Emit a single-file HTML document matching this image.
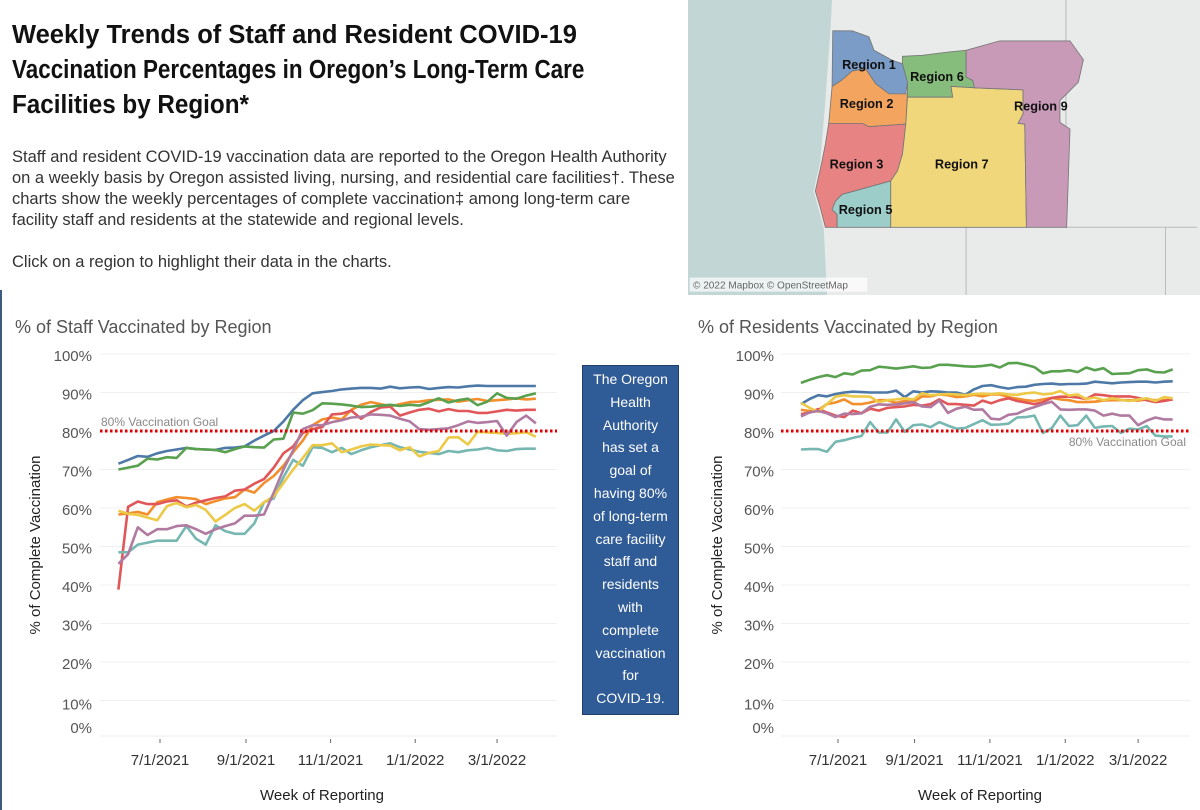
<!DOCTYPE html>
<html><head><meta charset="utf-8"><style>
body{margin:0;width:1200px;height:810px;background:#fff;position:relative;overflow:hidden;font-family:"Liberation Sans",sans-serif;}
.abs{position:absolute;}
h1{position:absolute;left:12px;top:18px;margin:0;font-size:25.5px;line-height:35px;font-weight:bold;color:#111;width:700px;white-space:nowrap;}
h1 span{display:block;transform-origin:0 50%;}
.desc{left:12px;top:147px;font-size:16.5px;line-height:21px;color:#333;white-space:nowrap;}
.ctitle{font-size:18px;color:#555;}
.card{left:582px;top:365px;width:97px;height:350px;background:#2f5b96;border:1px solid #1f3f6e;color:#fff;font-size:14px;line-height:22.8px;text-align:center;box-sizing:border-box;padding-top:2px;}
</style></head><body>
<div class="abs" style="left:0;top:290px;width:2px;height:520px;background:#3d5a80"></div>
<h1><span>Weekly Trends of Staff and Resident COVID-19</span><span style="transform:scaleX(0.88)">Vaccination Percentages in Oregon’s Long-Term Care</span><span style="transform:scaleX(0.95)">Facilities by Region*</span></h1>
<div class="abs desc">Staff and resident COVID-19 vaccination data are reported to the Oregon Health Authority<br>on a weekly basis by Oregon assisted living, nursing, and residential care facilities†. These<br>charts show the weekly percentages of complete vaccination‡ among long-term care<br>facility staff and residents at the statewide and regional levels.<br><br>Click on a region to highlight their data in the charts.</div>

<svg class="abs" style="left:688px;top:0" width="512" height="295" viewBox="0 0 1528 880" preserveAspectRatio="none">
<rect x="0" y="0" width="1528" height="880" fill="#e9eaea"/>
<path d="M0,0 L430,0 L425,90 L410,300 L395,480 L375,570 L405,680 L415,880 L0,880Z" fill="#c3d6d6"/>
<path d="M830,678 L830,880 M1425,678 L1425,880 M1128,0 L1128,678 L1520,678" stroke="#bbb" stroke-width="3" fill="none"/>
<g stroke="#777" stroke-width="2.5">
<polygon fill="#7a9cc6" points="432,92 490,92 540,110 555,150 610,180 640,190 655,245 650,280 600,280 560,250 530,205 490,212 458,240 430,258"/>
<polygon fill="#f3a55f" points="430,258 458,240 490,212 530,205 560,250 600,280 655,280 650,370 540,378 520,368 420,368"/>
<polygon fill="#e88383" points="420,368 520,368 540,378 650,370 640,460 625,510 605,540 460,580 440,600 430,625 445,640 445,678 410,678 395,620 380,570 400,480 410,430"/>
<polygon fill="#9ccdc8" points="460,580 605,540 605,678 445,678 445,640 430,625 440,600"/>
<polygon fill="#86bd7d" points="640,168 700,165 780,155 830,150 830,230 850,240 855,262 785,258 790,290 655,290 655,245 640,190"/>
<polygon fill="#f1d77b" points="655,290 790,290 785,258 855,262 1000,268 1000,340 985,368 1005,370 1010,678 605,678 605,540 625,510 640,460 650,370"/>
<polygon fill="#c99ab8" points="830,150 930,122 1140,122 1180,178 1165,245 1110,300 1110,365 1140,385 1130,678 1010,678 1005,370 985,368 1000,340 1000,268 855,262 850,240 830,230"/>
</g>
<g font-family="Liberation Sans, sans-serif" font-weight="bold" font-size="38" fill="#111" text-anchor="middle">
<text x="540" y="206">Region 1</text><text x="743" y="241">Region 6</text><text x="533" y="322">Region 2</text>
<text x="1053" y="329">Region 9</text><text x="503" y="502">Region 3</text><text x="817" y="502">Region 7</text><text x="530" y="639">Region 5</text>
</g>
<rect x="5" y="828" width="530" height="42" fill="#fff" opacity="0.7"/>
<text x="15" y="860" font-family="Liberation Sans, sans-serif" font-size="30" fill="#666">© 2022 Mapbox © OpenStreetMap</text>
</svg>

<div class="abs ctitle" style="left:15px;top:317px">% of Staff Vaccinated by Region</div>
<div class="abs ctitle" style="left:698px;top:317px">% of Residents Vaccinated by Region</div>
<div class="abs card">The Oregon<br>Health<br>Authority<br>has set a<br>goal of<br>having 80%<br>of long-term<br>care facility<br>staff and<br>residents<br>with<br>complete<br>vaccination<br>for<br>COVID-19.</div>

<svg class="abs" id="charts" style="left:0;top:0" width="1200" height="810"></svg>
<script>
const regions=['Region 1','Region 2','Region 3','Region 5','Region 6','Region 7','Region 9'];
const colors=['#4e79a7','#f28e2b','#e15759','#76b7b2','#59a14f','#edc948','#b07aa1'];
const yTicks=[0,10,20,30,40,50,60,70,80,90,100];
const xTickLabels=['7/1/2021','9/1/2021','11/1/2021','1/1/2022','3/1/2022'];
const xTickDays=[30,92,153,214,273];
const startDate='2021-05-31';
const goalValue=80;
const staffR1=[71.5,72.5,73.5,73.3,74.2,74.8,75.2,75.6,75.3,75.2,75.1,75.6,75.7,76.0,77.5,78.8,80,82.5,85.5,88,89.8,90.1,90.4,90.8,91.0,91.2,91.2,91.0,91.5,91.1,91.3,91.4,90.9,91.2,91.4,91.3,91.6,91.8,91.7,91.7,91.7,91.7,91.7,91.7];
const staffR2=[58.3,58.6,59,58.3,61.5,62.2,62.8,62.6,62.3,61,61.8,62.5,62.8,64.8,64,66.5,68.3,71,74.5,77.5,81.5,83,83.5,83,85.5,86.8,87.5,87,86.4,87,87.5,87.6,88,88.1,88.2,87.6,88,88.3,87.8,88,88.2,88.5,88.2,88.4];
const staffR3=[38.8,60.3,61.7,61,61,61.7,62,60.4,61.4,62,62.6,63,64.5,64.8,66.3,67.5,70.5,74.2,76,79.5,80.5,81,84.3,84.5,85.3,83.2,84.9,86.1,86.3,84,84.8,85.5,85.8,85.1,85.7,85.2,85.2,84.7,84.7,85.1,85.5,85.3,85.5,85.5];
const staffR5=[48.5,48.5,50.5,51,51.5,51.5,51.5,55.3,52,50.5,55.5,54,53.3,53.3,56,61.5,62.5,68,72.5,71,75.8,75.6,74.5,75.6,74,75,75.8,76.3,76.8,75.8,75.2,74.6,74.3,74,74.8,74.5,75,75.2,75.6,75,74.8,75.3,75.4,75.4];
const staffR6=[70,70.5,71,72.8,72.6,73.2,73,75.6,75.3,75.2,75.1,74.5,75.3,76,75.8,75.7,77.8,78,84.8,84.5,85.4,87.2,87.1,86.9,86.6,86.2,86.3,86.6,86.8,86.5,86.8,86.6,87.5,88.5,87.4,88,88.4,86.7,87.6,89.8,88.6,88.4,89.2,89.8];
const staffR7=[59.3,58.5,58.2,57.5,56.8,60.5,61.3,60.2,60.8,59.5,56.5,58.2,60,61,59.3,61.5,63,66.5,70,73,76.3,76.3,76.8,74.5,75.2,76,76.5,76.3,76.2,75,75.8,73.4,74.3,74.8,78.3,78.4,76.5,79.8,79.6,79.5,79.3,79.4,79.7,78.5];
const staffR9=[45.5,48,55,53,54.5,54.5,55.3,55.5,54.5,53.3,54.5,55.3,56,58,58,58.3,64,70,75,80.5,81.5,81.5,82.3,82.8,83.5,83.7,84.3,84.2,84,83.2,82.5,80.5,80.3,80.5,80.7,81.5,82.5,82.1,82.3,82.6,78.8,82.3,84,82];
const resR1=[87,88.3,89.3,89,89.6,90,90.2,90.1,90,90,90,90.5,88.8,90.3,90,90.3,90.2,90,90,89.4,90.8,91.7,91.9,91.4,91,91.4,91.5,92,92.2,92.3,92.1,92.2,92.2,92.3,92.8,92.6,92.4,92.6,92.7,92.8,92.8,92.6,92.8,92.9];
const resR2=[85.5,85.2,85.4,87,87.4,88.2,87,87,87.4,88,88,87.3,87.8,87.5,89,89,89.5,89.3,88.8,89,89.4,89,89.5,89.5,88.8,88.4,88,87.8,88.2,88.6,88.2,88,87.5,87.5,87.6,87.9,88,88,88,87.9,88.2,88,88,88.2];
const resR3=[84.4,84.8,85.7,84.8,84,83.6,85.3,84.6,85.8,85.3,86,86.2,86.4,86.8,86.6,87,88.2,87,87,86.8,86.6,87.9,87.2,88,88.5,87.8,87.4,87,87.5,88.6,88.9,88.9,88.7,88.3,89.5,89.3,89,89,89,88.6,88,87.5,87.8,88.2];
const resR5=[75.2,75.3,75.3,74.6,77.2,77.6,78.2,78.7,82.3,79.6,79.6,83,79.8,81.5,81.7,81,82.3,81.4,80.6,80.8,81.8,82.8,81.6,81.7,81.9,83.5,83.6,84,79.5,80.7,84,81.3,81.5,84,80.8,81.2,81.3,79.5,80.6,80.4,81.3,78.8,78.6,78.6];
const resR6=[92.5,93.3,94,94.5,94,95,94.7,95.7,95.8,96.7,96.5,96.2,96.5,96.8,96.4,96.5,97.2,97.2,97,96.8,96.7,96.9,97.2,96.5,97.6,97.7,97.2,96.6,95,95.5,95.5,95.8,95.3,96.5,95.8,96.3,94.8,94.9,95,95.8,96,95.3,95.2,96];
const resR7=[87.3,86,85,87,88.9,89.3,89,89,88.9,87.5,88,88.2,88.5,88.2,89.8,89.3,89.5,89.6,89.5,89.3,89.6,89.7,89.6,89.8,89.5,89.4,89.8,90,89.5,89.7,90.4,89.2,89.5,88.3,88.7,88,88.5,88.1,87.8,88.2,88.5,87.8,88.8,88.5];
const resR9=[83.8,84.8,85.2,84.6,83.6,84.5,84.4,84.6,86.3,86.9,86.8,86.9,87.2,87.5,86.4,86.2,87.9,84.7,85.8,86.3,85.5,85.6,83.2,83,84.2,84.5,85.5,86.2,87,87.6,85.6,85.5,85.6,85.6,85.3,84,84.5,84,84,81.5,82.7,83.5,83,83];

const NS='http://www.w3.org/2000/svg';
const svg=document.getElementById('charts');
function mk(tag,attrs,parent){const e=document.createElementNS(NS,tag);for(const k in attrs)e.setAttribute(k,attrs[k]);(parent||svg).appendChild(e);return e;}
function drawChart(cfg){
  const g=mk('g',{});
  
  
  const y=v=>cfg.y0-(v/100)*(cfg.y0-cfg.y100);
  const x=d=>cfg.xa+(d-30)*cfg.k;
  yTicks.forEach(t=>{
    if(t>0){const gl=mk('line',{x1:cfg.gx0,x2:cfg.gx1,y1:y(t),y2:y(t),stroke:'#f0f0f0','stroke-width':1},g);
    
    }
    const tx=mk('text',{x:cfg.lx,y:(t===0?y(0)-6:y(t)+(t===10?9:7)),'text-anchor':'end','font-size':15,fill:'#555','font-family':'Liberation Sans, sans-serif'},g);
    tx.textContent=t+'%';
    
    
  });
  mk('line',{x1:cfg.gx0,x2:cfg.gx1,y1:y(0)-3,y2:y(0)-3,stroke:'#eee'},g);
  xTickDays.forEach((d,i)=>{
    mk('line',{x1:x(d),x2:x(d),y1:y(0),y2:y(0)+4,stroke:'#666'},g);
    const tx=mk('text',{x:x(d),y:y(0)+26,'text-anchor':'middle','font-size':15,fill:'#333','font-family':'Liberation Sans, sans-serif'},g);
    tx.textContent=xTickLabels[i];
    
    
  });
  const xt=mk('text',{x:cfg.xtx,y:800,'text-anchor':'middle','font-size':15,fill:'#222','font-family':'Liberation Sans, sans-serif'},g);
  xt.textContent='Week of Reporting';
  
  
  const yt=mk('text',{x:0,y:0,transform:'translate('+cfg.ytx+',545) rotate(-90)','text-anchor':'middle','font-size':15,fill:'#222','font-family':'Liberation Sans, sans-serif'},g);
  yt.textContent='% of Complete Vaccination';
  
  
  cfg.series.forEach((s,si)=>{
    const pts=s.map((v,i)=>x(i*7)+','+y(v).toFixed(1)).join(' ');
    const pl=mk('polyline',{points:pts,fill:'none',stroke:colors[si],'stroke-width':2.6,'stroke-linejoin':'round'},g);
    
    
  });
  const gl=mk('line',{x1:cfg.gx0,x2:cfg.gx1,y1:y(goalValue),y2:y(goalValue),stroke:'#e00000','stroke-width':3,'stroke-dasharray':'2.5 2.5'},g);
  
  
  const gt=mk('text',{x:cfg.gtx,y:y(goalValue)+cfg.gdy,'text-anchor':cfg.ganchor,'font-size':12,fill:'#888','font-family':'Liberation Sans, sans-serif'},g);
  gt.textContent=goalValue+'% Vaccination Goal';
  
  
}
drawChart({name:'staff-chart',y0:739,y100:354,xa:160,k:1.387,gx0:100,gx1:557,lx:92,xtx:322,ytx:40,gtx:101,gdy:-5,ganchor:'start',
  series:[staffR1,staffR2,staffR3,staffR5,staffR6,staffR7,staffR9]});
drawChart({name:'residents-chart',y0:739,y100:354,xa:838,k:1.235,gx0:781,gx1:1190,lx:774,xtx:980,ytx:722,gtx:1186,gdy:15,ganchor:'end',
  series:[resR1,resR2,resR3,resR5,resR6,resR7,resR9]});
</script>
</body></html>
